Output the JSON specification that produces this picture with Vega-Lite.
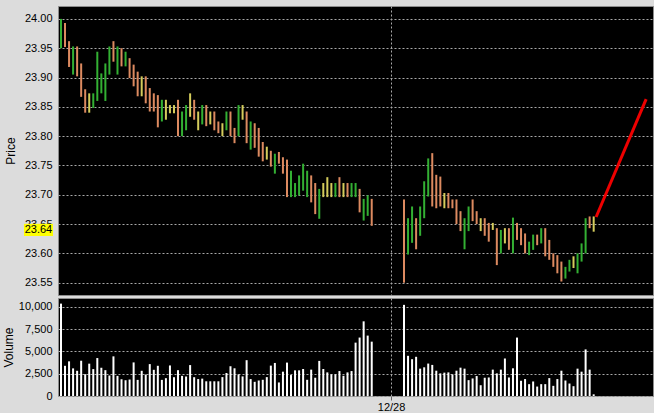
{
  "$schema": "https://vega.github.io/schema/vega-lite/v6.json",
  "background": "#dcdcdc",
  "padding": {"left": 1, "top": 5, "right": 0, "bottom": 0},
  "spacing": 1,
  "datasets": {
    "bars": [
      {"i":0,"hi":24.000,"lo":23.950,"dir":"up","vol":10370},
      {"i":1,"hi":23.993,"lo":23.952,"dir":"down","vol":3390},
      {"i":2,"hi":23.962,"lo":23.918,"dir":"down","vol":3890},
      {"i":3,"hi":23.953,"lo":23.905,"dir":"up","vol":3100},
      {"i":4,"hi":23.953,"lo":23.902,"dir":"down","vol":2830},
      {"i":5,"hi":23.924,"lo":23.867,"dir":"down","vol":3960},
      {"i":6,"hi":23.880,"lo":23.840,"dir":"down","vol":2450},
      {"i":7,"hi":23.873,"lo":23.840,"dir":"flat","vol":3630},
      {"i":8,"hi":23.873,"lo":23.848,"dir":"up","vol":3020},
      {"i":9,"hi":23.944,"lo":23.860,"dir":"up","vol":4260},
      {"i":10,"hi":23.907,"lo":23.873,"dir":"up","vol":3170},
      {"i":11,"hi":23.924,"lo":23.860,"dir":"up","vol":2900},
      {"i":12,"hi":23.953,"lo":23.905,"dir":"up","vol":2300},
      {"i":13,"hi":23.962,"lo":23.927,"dir":"down","vol":4450},
      {"i":14,"hi":23.953,"lo":23.905,"dir":"up","vol":2260},
      {"i":15,"hi":23.950,"lo":23.919,"dir":"down","vol":1880},
      {"i":16,"hi":23.944,"lo":23.919,"dir":"up","vol":1770},
      {"i":17,"hi":23.933,"lo":23.899,"dir":"down","vol":1850},
      {"i":18,"hi":23.922,"lo":23.885,"dir":"down","vol":3770},
      {"i":19,"hi":23.910,"lo":23.868,"dir":"down","vol":1810},
      {"i":20,"hi":23.902,"lo":23.868,"dir":"flat","vol":2830},
      {"i":21,"hi":23.902,"lo":23.856,"dir":"down","vol":2410},
      {"i":22,"hi":23.882,"lo":23.842,"dir":"down","vol":3580},
      {"i":23,"hi":23.873,"lo":23.842,"dir":"down","vol":2940},
      {"i":24,"hi":23.870,"lo":23.815,"dir":"down","vol":3390},
      {"i":25,"hi":23.862,"lo":23.825,"dir":"up","vol":1810},
      {"i":26,"hi":23.862,"lo":23.828,"dir":"flat","vol":2000},
      {"i":27,"hi":23.853,"lo":23.839,"dir":"flat","vol":3430},
      {"i":28,"hi":23.853,"lo":23.839,"dir":"flat","vol":2110},
      {"i":29,"hi":23.862,"lo":23.800,"dir":"down","vol":2900},
      {"i":30,"hi":23.842,"lo":23.800,"dir":"up","vol":2260},
      {"i":31,"hi":23.853,"lo":23.810,"dir":"up","vol":2190},
      {"i":32,"hi":23.873,"lo":23.833,"dir":"flat","vol":3470},
      {"i":33,"hi":23.862,"lo":23.828,"dir":"down","vol":2110},
      {"i":34,"hi":23.842,"lo":23.810,"dir":"flat","vol":1900},
      {"i":35,"hi":23.853,"lo":23.820,"dir":"up","vol":1950},
      {"i":36,"hi":23.853,"lo":23.817,"dir":"down","vol":1650},
      {"i":37,"hi":23.842,"lo":23.820,"dir":"flat","vol":1650},
      {"i":38,"hi":23.842,"lo":23.810,"dir":"down","vol":1650},
      {"i":39,"hi":23.825,"lo":23.805,"dir":"down","vol":1650},
      {"i":40,"hi":23.822,"lo":23.800,"dir":"flat","vol":2120},
      {"i":41,"hi":23.842,"lo":23.810,"dir":"up","vol":2580},
      {"i":42,"hi":23.842,"lo":23.800,"dir":"down","vol":3340},
      {"i":43,"hi":23.814,"lo":23.788,"dir":"down","vol":3110},
      {"i":44,"hi":23.853,"lo":23.800,"dir":"up","vol":2430},
      {"i":45,"hi":23.853,"lo":23.828,"dir":"flat","vol":2200},
      {"i":46,"hi":23.842,"lo":23.788,"dir":"down","vol":4020},
      {"i":47,"hi":23.825,"lo":23.777,"dir":"up","vol":1900},
      {"i":48,"hi":23.822,"lo":23.780,"dir":"down","vol":1590},
      {"i":49,"hi":23.814,"lo":23.765,"dir":"down","vol":1740},
      {"i":50,"hi":23.790,"lo":23.757,"dir":"down","vol":1820},
      {"i":51,"hi":23.782,"lo":23.760,"dir":"flat","vol":2120},
      {"i":52,"hi":23.775,"lo":23.748,"dir":"down","vol":3410},
      {"i":53,"hi":23.770,"lo":23.736,"dir":"up","vol":3710},
      {"i":54,"hi":23.773,"lo":23.753,"dir":"down","vol":1520},
      {"i":55,"hi":23.764,"lo":23.736,"dir":"down","vol":2730},
      {"i":56,"hi":23.760,"lo":23.696,"dir":"down","vol":3750},
      {"i":57,"hi":23.741,"lo":23.696,"dir":"up","vol":2350},
      {"i":58,"hi":23.720,"lo":23.696,"dir":"up","vol":2880},
      {"i":59,"hi":23.733,"lo":23.699,"dir":"up","vol":2880},
      {"i":60,"hi":23.753,"lo":23.707,"dir":"up","vol":3030},
      {"i":61,"hi":23.741,"lo":23.696,"dir":"up","vol":1820},
      {"i":62,"hi":23.733,"lo":23.687,"dir":"down","vol":2960},
      {"i":63,"hi":23.720,"lo":23.667,"dir":"down","vol":2050},
      {"i":64,"hi":23.710,"lo":23.659,"dir":"up","vol":3940},
      {"i":65,"hi":23.720,"lo":23.696,"dir":"flat","vol":3030},
      {"i":66,"hi":23.730,"lo":23.696,"dir":"flat","vol":2650},
      {"i":67,"hi":23.720,"lo":23.696,"dir":"flat","vol":2430},
      {"i":68,"hi":23.720,"lo":23.696,"dir":"up","vol":2430},
      {"i":69,"hi":23.730,"lo":23.696,"dir":"down","vol":2800},
      {"i":70,"hi":23.720,"lo":23.696,"dir":"flat","vol":2270},
      {"i":71,"hi":23.720,"lo":23.696,"dir":"down","vol":2650},
      {"i":72,"hi":23.720,"lo":23.696,"dir":"up","vol":2800},
      {"i":73,"hi":23.720,"lo":23.696,"dir":"up","vol":5990},
      {"i":74,"hi":23.710,"lo":23.670,"dir":"down","vol":6560},
      {"i":75,"hi":23.693,"lo":23.656,"dir":"up","vol":8380},
      {"i":76,"hi":23.699,"lo":23.664,"dir":"up","vol":6780},
      {"i":77,"hi":23.693,"lo":23.647,"dir":"down","vol":6100},
      {"i":85,"hi":23.692,"lo":23.550,"dir":"down","vol":10230},
      {"i":86,"hi":23.660,"lo":23.598,"dir":"up","vol":4510},
      {"i":87,"hi":23.680,"lo":23.618,"dir":"up","vol":4130},
      {"i":88,"hi":23.660,"lo":23.607,"dir":"down","vol":4400},
      {"i":89,"hi":23.680,"lo":23.630,"dir":"up","vol":3070},
      {"i":90,"hi":23.723,"lo":23.660,"dir":"up","vol":3220},
      {"i":91,"hi":23.762,"lo":23.697,"dir":"up","vol":3640},
      {"i":92,"hi":23.771,"lo":23.680,"dir":"down","vol":3490},
      {"i":93,"hi":23.734,"lo":23.677,"dir":"down","vol":2840},
      {"i":94,"hi":23.731,"lo":23.680,"dir":"down","vol":2540},
      {"i":95,"hi":23.703,"lo":23.677,"dir":"flat","vol":2620},
      {"i":96,"hi":23.703,"lo":23.677,"dir":"down","vol":2650},
      {"i":97,"hi":23.692,"lo":23.677,"dir":"down","vol":2430},
      {"i":98,"hi":23.692,"lo":23.650,"dir":"down","vol":2840},
      {"i":99,"hi":23.672,"lo":23.638,"dir":"down","vol":3180},
      {"i":100,"hi":23.660,"lo":23.607,"dir":"up","vol":3070},
      {"i":101,"hi":23.680,"lo":23.638,"dir":"up","vol":1780},
      {"i":102,"hi":23.692,"lo":23.655,"dir":"down","vol":1970},
      {"i":103,"hi":23.672,"lo":23.650,"dir":"down","vol":2240},
      {"i":104,"hi":23.660,"lo":23.638,"dir":"flat","vol":1210},
      {"i":105,"hi":23.660,"lo":23.630,"dir":"down","vol":2050},
      {"i":106,"hi":23.652,"lo":23.620,"dir":"down","vol":2080},
      {"i":107,"hi":23.652,"lo":23.640,"dir":"flat","vol":2960},
      {"i":108,"hi":23.643,"lo":23.580,"dir":"down","vol":2540},
      {"i":109,"hi":23.640,"lo":23.600,"dir":"up","vol":2960},
      {"i":110,"hi":23.643,"lo":23.617,"dir":"flat","vol":4210},
      {"i":111,"hi":23.643,"lo":23.606,"dir":"down","vol":2080},
      {"i":112,"hi":23.661,"lo":23.600,"dir":"up","vol":3110},
      {"i":113,"hi":23.652,"lo":23.623,"dir":"down","vol":6560},
      {"i":114,"hi":23.643,"lo":23.614,"dir":"down","vol":1710},
      {"i":115,"hi":23.634,"lo":23.600,"dir":"down","vol":1900},
      {"i":116,"hi":23.620,"lo":23.597,"dir":"up","vol":1330},
      {"i":117,"hi":23.632,"lo":23.606,"dir":"up","vol":1630},
      {"i":118,"hi":23.632,"lo":23.614,"dir":"down","vol":1060},
      {"i":119,"hi":23.643,"lo":23.617,"dir":"up","vol":1330},
      {"i":120,"hi":23.643,"lo":23.595,"dir":"down","vol":1330},
      {"i":121,"hi":23.623,"lo":23.589,"dir":"down","vol":2010},
      {"i":122,"hi":23.600,"lo":23.577,"dir":"down","vol":1140},
      {"i":123,"hi":23.597,"lo":23.566,"dir":"down","vol":1900},
      {"i":124,"hi":23.586,"lo":23.552,"dir":"down","vol":2840},
      {"i":125,"hi":23.577,"lo":23.557,"dir":"up","vol":1740},
      {"i":126,"hi":23.589,"lo":23.569,"dir":"up","vol":1400},
      {"i":127,"hi":23.595,"lo":23.575,"dir":"flat","vol":1100},
      {"i":128,"hi":23.600,"lo":23.566,"dir":"up","vol":3070},
      {"i":129,"hi":23.617,"lo":23.586,"dir":"up","vol":2730},
      {"i":130,"hi":23.660,"lo":23.600,"dir":"up","vol":5230},
      {"i":131,"hi":23.663,"lo":23.643,"dir":"down","vol":2960},
      {"i":132,"hi":23.663,"lo":23.637,"dir":"flat","vol":190}
    ],
    "trend": [
      {"i": 132.6, "price": 23.662},
      {"i": 145.0, "price": 23.863}
    ],
    "last": [{"price": 23.64}]
  },
  "resolve": {"scale": {"x": "independent", "y": "independent"}},
  "vconcat": [
    {
      "width": 595,
      "height": 289,
      "layer": [
        {
          "data": {"name": "bars"},
          "mark": {"type": "rule", "strokeWidth": 2, "clip": true},
          "encoding": {
            "x": {"field": "i", "type": "quantitative",
                  "scale": {"domain": [-0.74, 146.7], "nice": false, "zero": false},
                  "axis": {"values": [81.8], "labels": false, "ticks": false, "domain": false, "grid": true, "title": null, "minExtent": 0, "maxExtent": 0, "labelPadding": 0}},
            "y": {"field": "hi", "type": "quantitative",
                  "scale": {"domain": [23.529, 24.022], "nice": false, "zero": false},
                  "axis": {"values": [23.55, 23.6, 23.65, 23.7, 23.75, 23.8, 23.85, 23.9, 23.95, 24.0], "tickCount": 20, "labelExpr": "format(datum.value, '.2f')", "title": "Price", "titlePadding": 7}},
            "y2": {"field": "lo"},
            "color": {"field": "dir", "type": "nominal",
                      "scale": {"domain": ["up", "down", "flat"], "range": ["#33b033", "#dc8a60", "#d4cc5c"]},
                      "legend": null}
          }
        },
        {
          "data": {"name": "trend"},
          "mark": {"type": "line", "color": "#ee0000", "strokeWidth": 3, "clip": true},
          "encoding": {
            "x": {"field": "i", "type": "quantitative"},
            "y": {"field": "price", "type": "quantitative"}
          }
        },
        {
          "data": {"name": "last"},
          "mark": {"type": "point", "shape": "M-1,-0.42H1V0.42H-1Z", "filled": true, "color": "#ffff00", "opacity": 1, "size": 841, "clip": false},
          "encoding": {
            "x": {"datum": -5.58, "type": "quantitative"},
            "y": {"field": "price", "type": "quantitative"}
          }
        },
        {
          "data": {"name": "last"},
          "mark": {"type": "text", "clip": false, "font": "Liberation Sans", "fontSize": 11, "align": "center", "baseline": "middle", "color": "#000000"},
          "encoding": {
            "x": {"datum": -5.58, "type": "quantitative"},
            "y": {"field": "price", "type": "quantitative"},
            "text": {"field": "price", "type": "quantitative", "format": ".2f"}
          }
        }
      ]
    },
    {
      "width": 595,
      "height": 98,
      "data": {"name": "bars"},
      "mark": {"type": "rule", "strokeWidth": 2, "color": "#ffffff", "clip": true},
      "encoding": {
        "x": {"field": "i", "type": "quantitative",
              "scale": {"domain": [-0.74, 146.7], "nice": false, "zero": false},
              "axis": {"values": [81.8], "labelExpr": "'12/28'", "ticks": true, "tickSize": 4, "tickColor": "#666666", "labelPadding": 1, "domain": false, "grid": true, "title": null}},
        "y": {"field": "vol", "type": "quantitative",
              "scale": {"domain": [0, 11000], "nice": false},
              "axis": {"values": [0, 2500, 5000, 7500, 10000], "labelExpr": "format(datum.value, ',')", "title": "Volume", "titlePadding": 3}},
        "y2": {"datum": 0}
      }
    }
  ],
  "config": {
    "view": {"fill": "#000000", "stroke": "#8c8c8c", "strokeWidth": 1},
    "axis": {
      "labelFont": "Liberation Sans", "labelFontSize": 11, "labelColor": "#000000",
      "titleFont": "Liberation Sans", "titleFontSize": 12, "titleFontWeight": "normal", "titleColor": "#000000",
      "gridColor": "#a8a8a8", "gridDash": [2, 2], "gridWidth": 1, "gridOpacity": 1,
      "domain": false, "ticks": false, "labelPadding": 6, "labelOverlap": false, "labelBound": false
    }
  }
}
